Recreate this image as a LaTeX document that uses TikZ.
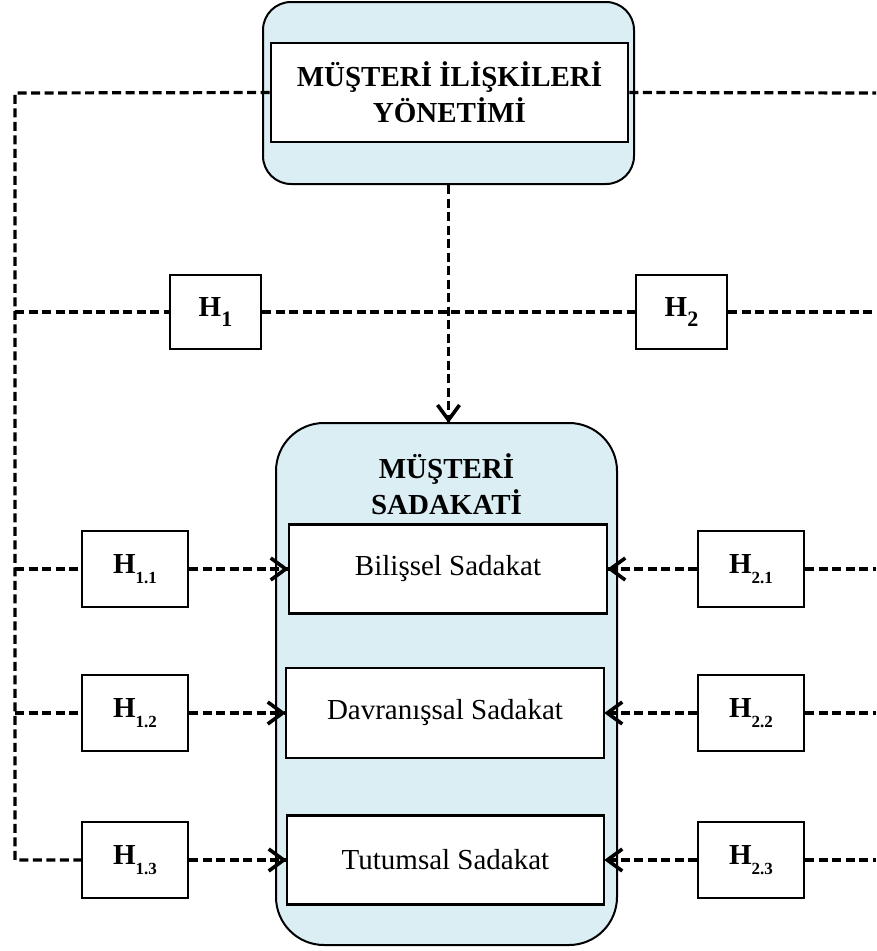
\documentclass[tikz,border=0pt]{standalone}
\usepackage{fontspec}
\setmainfont{Liberation Serif}
\usetikzlibrary{decorations.markings}
\definecolor{paleblue}{RGB}{219,238,244}
\newcommand{\hyp}[2]{\textbf{H\raisebox{-10pt}{\fontsize{#1}{#1}\selectfont #2}}}

\begin{document}
\begin{tikzpicture}[x=1pt, y=-1pt,
    font=\fontsize{29}{36}\selectfont,
    outerbox/.style={draw, line width=2pt, fill=paleblue, rounded corners=#1, inner sep=0pt},
    innerbox/.style={draw, line width=2.6pt, fill=white, align=center, inner sep=0pt},
    hbox/.style={draw, line width=2pt, fill=white, minimum width=106pt, minimum height=76pt, inner sep=0pt},
    link/.style={line width=3.2pt, dash pattern=on 9pt off 4.5pt},
    arr/.style={link, postaction={decorate}, decoration={markings,
        mark=at position 1 with {\draw[solid, line width=3.6pt, miter limit=10] (-17pt,11pt) -- (-2pt,0pt) -- (-17pt,-11pt);}}}
  ]
  \useasboundingbox (0,0) rectangle (876,951);

  % main boxes
  \node[outerbox=28pt, minimum width=371pt, minimum height=182pt] (crm) at (448.5,93) {};
  \node[innerbox, minimum width=357pt, minimum height=99pt, font=\fontsize{29}{36}\selectfont\bfseries] (crmin) at (449.5,92.5) {MÜŞTERİ İLİŞKİLERİ\\YÖNETİMİ};

  \node[outerbox=48pt, minimum width=341pt, minimum height=522pt] (sad) at (446.5,684) {};
  \node[align=center, font=\fontsize{29}{36}\selectfont\bfseries] (sadtitle) at (446.5,484) {MÜŞTERİ\\SADAKATİ};
  \node[innerbox, minimum width=318pt, minimum height=89pt] (bil) at (448,569) {Bilişsel Sadakat};
  \node[innerbox, minimum width=318pt, minimum height=90pt] (dav) at (445,713) {Davranışsal Sadakat};
  \node[innerbox, minimum width=317pt, minimum height=89pt] (tut) at (445.5,860) {Tutumsal Sadakat};

  % hypotheses
  \node[hbox, minimum width=91pt, minimum height=74pt] (h1) at (215.5,312) {\hyp{22}{1}};
  \node[hbox, minimum width=91pt, minimum height=74pt] (h2) at (681.5,312) {\hyp{22}{2}};
  \node[hbox] (h11) at (135,569) {\hyp{17}{1.1}};
  \node[hbox] (h12) at (135,713) {\hyp{17}{1.2}};
  \node[hbox] (h13) at (135,860) {\hyp{17}{1.3}};
  \node[hbox] (h21) at (751,569) {\hyp{17}{2.1}};
  \node[hbox] (h22) at (751,713) {\hyp{17}{2.2}};
  \node[hbox] (h23) at (751,860) {\hyp{17}{2.3}};

  \coordinate (lt) at (15,93);
  \coordinate (lb) at (15,860);
  \coordinate (rt) at (876,93);

  % left side
  \draw[link] (crmin.west) -- (lt) -- (lb) -- (h13.west);
  \draw[link] (lt |- h1) -- (h1.west);
  \draw[link] (lt |- h11) -- (h11.west);
  \draw[link] (lt |- h12) -- (h12.west);

  % right side
  \draw[link] (crmin.east) -- (rt);
  \draw[link] (h2.east) -- (rt |- h2);
  \draw[link] (h21.east) -- (rt |- h21);
  \draw[link] (h22.east) -- (rt |- h22);
  \draw[link] (h23.east) -- (rt |- h23);
  \draw[link] (h1.east) -- (h2.west);

  % arrows
  \draw[arr] (crm.south) -- (crm.south |- sad.north);
  \draw[arr] (h11) -- (bil);
  \draw[arr] (h12) -- (dav);
  \draw[arr] (h13) -- (tut);
  \draw[arr] (h21) -- (bil);
  \draw[arr] (h22) -- (dav);
  \draw[arr] (h23) -- (tut);
\end{tikzpicture}
\end{document}
